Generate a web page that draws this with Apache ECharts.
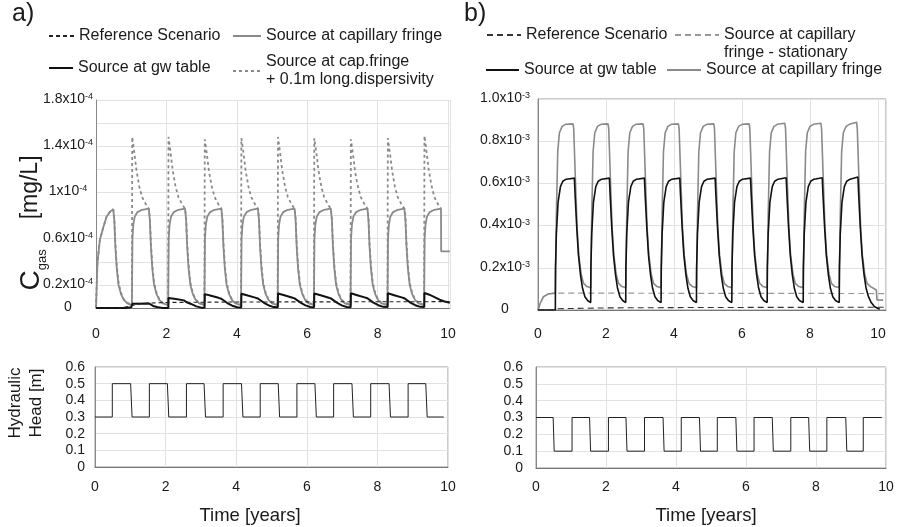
<!DOCTYPE html>
<html><head><meta charset="utf-8">
<script src="https://cdn.jsdelivr.net/npm/echarts@6/dist/echarts.min.js"></script>
<style>html,body{margin:0;padding:0;background:#fff}#c{width:897px;height:527px}</style>
</head><body><div id="c"></div>
<script>
// ---------- DATA (time in years; concentrations in 1e-4 mg/L for a, 1e-3 mg/L for b) ----------
const timeTickStep = 2;
const capATickLabels = {'0.0':'0','0.2':'0.2','0.6':'0.6','1.0':'1','1.4':'1.4','1.8':'1.8'};
const capBTickLabels = {'0.0':'0','0.2':'0.2','0.4':'0.4','0.6':'0.6','0.8':'0.8','1.0':'1.0'};

const refA = [[0,0],[0.7,0],[1.0,0.02],[1.3,0.04],[2.0,0.048],[4.0,0.052],[10.05,0.055]];

const capA = [[0,0],[0.04,0.39],[0.11,0.59],[0.21,0.70],[0.30,0.79],[0.40,0.834],[0.49,0.854],
[0.52,0.76],[0.55,0.53],[0.59,0.34],[0.64,0.20],[0.71,0.12],[0.79,0.07],[0.89,0.04],[1.02,0.025],
[1.035,0.60],[1.06,0.72],[1.10,0.79],[1.18,0.83],[1.31,0.85],[1.50,0.86],
[1.53,0.76],[1.56,0.53],[1.60,0.34],[1.65,0.20],[1.72,0.12],[1.80,0.07],[1.90,0.04],[2.05,0.025],
[2.065,0.60],[2.09,0.72],[2.13,0.79],[2.21,0.83],[2.34,0.85],[2.53,0.86],
[2.56,0.76],[2.59,0.53],[2.63,0.34],[2.68,0.20],[2.75,0.12],[2.83,0.07],[2.93,0.04],[3.08,0.025],
[3.095,0.60],[3.12,0.72],[3.16,0.79],[3.24,0.83],[3.37,0.85],[3.56,0.86],
[3.59,0.76],[3.62,0.53],[3.66,0.34],[3.71,0.20],[3.78,0.12],[3.86,0.07],[3.96,0.04],[4.12,0.025],
[4.135,0.60],[4.16,0.72],[4.20,0.79],[4.28,0.83],[4.41,0.85],[4.60,0.86],
[4.63,0.76],[4.66,0.53],[4.70,0.34],[4.75,0.20],[4.82,0.12],[4.90,0.07],[5.00,0.04],[5.16,0.025],
[5.175,0.60],[5.20,0.72],[5.24,0.79],[5.32,0.83],[5.45,0.85],[5.64,0.86],
[5.67,0.76],[5.70,0.53],[5.74,0.34],[5.79,0.20],[5.86,0.12],[5.94,0.07],[6.04,0.04],[6.19,0.025],
[6.205,0.60],[6.23,0.72],[6.27,0.79],[6.35,0.83],[6.48,0.85],[6.67,0.86],
[6.70,0.76],[6.73,0.53],[6.77,0.34],[6.82,0.20],[6.89,0.12],[6.97,0.07],[7.07,0.04],[7.23,0.025],
[7.245,0.60],[7.27,0.72],[7.31,0.79],[7.39,0.83],[7.52,0.85],[7.71,0.86],
[7.74,0.76],[7.77,0.53],[7.81,0.34],[7.86,0.20],[7.93,0.12],[8.01,0.07],[8.11,0.04],[8.28,0.025],
[8.295,0.60],[8.32,0.72],[8.36,0.79],[8.44,0.83],[8.57,0.85],[8.76,0.86],
[8.79,0.76],[8.82,0.53],[8.86,0.34],[8.91,0.20],[8.98,0.12],[9.06,0.07],[9.16,0.04],[9.32,0.025],
[9.335,0.60],[9.36,0.72],[9.40,0.79],[9.48,0.83],[9.61,0.85],[9.80,0.86],[9.805,0.49],[10.05,0.49]];

const dispA = [[0,0],[0.04,0.39],[0.11,0.59],[0.21,0.70],[0.30,0.79],[0.40,0.834],[0.49,0.854],
[0.52,0.78],[0.55,0.56],[0.59,0.37],[0.64,0.22],[0.71,0.13],[0.79,0.075],[0.89,0.045],[1.02,0.03],
[1.03,1.48],[1.09,1.34],[1.15,1.19],[1.23,1.05],[1.31,0.96],[1.43,0.89],[1.50,0.86],
[1.53,0.78],[1.56,0.56],[1.60,0.37],[1.65,0.22],[1.72,0.13],[1.80,0.075],[1.90,0.045],[2.05,0.03],
[2.06,1.48],[2.12,1.34],[2.18,1.19],[2.26,1.05],[2.34,0.96],[2.46,0.89],[2.53,0.86],
[2.56,0.78],[2.59,0.56],[2.63,0.37],[2.68,0.22],[2.75,0.13],[2.83,0.075],[2.93,0.045],[3.08,0.03],
[3.09,1.46],[3.15,1.33],[3.21,1.18],[3.29,1.05],[3.37,0.96],[3.49,0.89],[3.56,0.86],
[3.59,0.78],[3.62,0.56],[3.66,0.37],[3.71,0.22],[3.78,0.13],[3.86,0.075],[3.96,0.045],[4.12,0.03],
[4.13,1.47],[4.19,1.34],[4.25,1.19],[4.33,1.05],[4.41,0.96],[4.53,0.89],[4.60,0.86],
[4.63,0.78],[4.66,0.56],[4.70,0.37],[4.75,0.22],[4.82,0.13],[4.90,0.075],[5.00,0.045],[5.16,0.03],
[5.17,1.48],[5.23,1.34],[5.29,1.19],[5.37,1.05],[5.45,0.96],[5.57,0.89],[5.64,0.86],
[5.67,0.78],[5.70,0.56],[5.74,0.37],[5.79,0.22],[5.86,0.13],[5.94,0.075],[6.04,0.045],[6.19,0.03],
[6.20,1.47],[6.26,1.34],[6.32,1.19],[6.40,1.05],[6.48,0.96],[6.60,0.89],[6.67,0.86],
[6.70,0.78],[6.73,0.56],[6.77,0.37],[6.82,0.22],[6.89,0.13],[6.97,0.075],[7.07,0.045],[7.23,0.03],
[7.24,1.46],[7.30,1.33],[7.36,1.18],[7.44,1.05],[7.52,0.96],[7.64,0.89],[7.71,0.86],
[7.74,0.78],[7.77,0.56],[7.81,0.37],[7.86,0.22],[7.93,0.13],[8.01,0.075],[8.11,0.045],[8.28,0.03],
[8.29,1.47],[8.35,1.34],[8.41,1.19],[8.49,1.05],[8.57,0.96],[8.69,0.89],[8.76,0.86],
[8.79,0.78],[8.82,0.56],[8.86,0.37],[8.91,0.22],[8.98,0.13],[9.06,0.075],[9.16,0.045],[9.32,0.03],
[9.33,1.49],[9.39,1.35],[9.45,1.20],[9.53,1.06],[9.61,0.96],[9.73,0.89],[9.80,0.86]];

const gwA = [[0,0],[0.85,0],[1.0,0.006],[1.03,0.008],[1.035,0.037],[1.50,0.04],[1.56,0.03],[1.62,0.018],[1.73,0.008],[1.88,0.001],[2.055,0],
[2.06,0.087],[2.27,0.078],[2.50,0.066],[2.53,0.063],[2.56,0.052],[2.70,0.035],[2.85,0.014],[2.99,0.003],[3.085,0.002],
[3.09,0.12],[3.27,0.106],[3.48,0.088],[3.56,0.080],[3.59,0.064],[3.73,0.043],[3.87,0.020],[4.01,0.006],[4.125,0.004],
[4.13,0.124],[4.31,0.108],[4.52,0.090],[4.60,0.082],[4.63,0.066],[4.77,0.045],[4.91,0.022],[5.05,0.008],[5.165,0.006],
[5.17,0.126],[5.35,0.110],[5.56,0.091],[5.64,0.083],[5.67,0.067],[5.81,0.046],[5.95,0.023],[6.09,0.009],[6.195,0.007],
[6.20,0.126],[6.38,0.110],[6.59,0.091],[6.67,0.083],[6.70,0.067],[6.84,0.046],[6.98,0.023],[7.12,0.009],[7.235,0.007],
[7.24,0.127],[7.42,0.111],[7.63,0.092],[7.71,0.084],[7.74,0.068],[7.88,0.047],[8.02,0.024],[8.16,0.01],[8.285,0.008],
[8.29,0.127],[8.47,0.111],[8.68,0.092],[8.76,0.084],[8.79,0.068],[8.93,0.047],[9.07,0.024],[9.21,0.01],[9.325,0.008],
[9.33,0.13],[9.47,0.115],[9.66,0.088],[9.76,0.072],[9.88,0.058],[10.05,0.045]];

const headA = [[0,0.3],[0.49,0.3],[0.49,0.5],[1.01,0.5],[1.05,0.3],[1.54,0.3],[1.54,0.5],[2.05,0.5],[2.09,0.3],
[2.59,0.3],[2.59,0.5],[3.09,0.5],[3.13,0.3],[3.63,0.3],[3.63,0.5],[4.15,0.5],[4.19,0.3],[4.68,0.3],[4.68,0.5],
[5.19,0.5],[5.23,0.3],[5.72,0.3],[5.72,0.5],[6.23,0.5],[6.27,0.3],[6.76,0.3],[6.76,0.5],[7.28,0.5],[7.32,0.3],
[7.81,0.3],[7.81,0.5],[8.33,0.5],[8.37,0.3],[8.87,0.3],[8.87,0.5],[9.37,0.5],[9.41,0.3],[9.88,0.3]];

const refB = [[0,0],[0.52,0],[0.6,0.006],[2,0.01],[5,0.012],[10.2,0.013]];
const statB = [[0,0],[0.06,0.03],[0.16,0.063],[0.30,0.076],[0.45,0.079],[0.51,0.08],[10.2,0.078]];

const capB = [[0,0],[0.06,0.03],[0.16,0.063],[0.30,0.076],[0.45,0.079],[0.51,0.08],
[0.54,0.45],[0.58,0.75],[0.63,0.84],[0.71,0.87],[0.81,0.88],[1.03,0.882],
[1.05,0.86],[1.10,0.62],[1.15,0.39],[1.20,0.26],[1.27,0.17],[1.34,0.126],[1.44,0.111],[1.55,0.106],
[1.58,0.45],[1.62,0.75],[1.67,0.84],[1.75,0.87],[1.85,0.88],[2.06,0.882],
[2.08,0.86],[2.13,0.62],[2.18,0.39],[2.23,0.26],[2.30,0.17],[2.37,0.126],[2.47,0.111],[2.58,0.106],
[2.61,0.45],[2.65,0.75],[2.70,0.84],[2.78,0.87],[2.88,0.88],[3.09,0.882],
[3.11,0.86],[3.16,0.62],[3.21,0.39],[3.26,0.26],[3.33,0.17],[3.40,0.126],[3.50,0.111],[3.62,0.106],
[3.65,0.45],[3.69,0.75],[3.74,0.84],[3.82,0.87],[3.92,0.88],[4.13,0.882],
[4.15,0.86],[4.20,0.62],[4.25,0.39],[4.30,0.26],[4.37,0.17],[4.44,0.126],[4.54,0.111],[4.66,0.106],
[4.69,0.45],[4.73,0.75],[4.78,0.84],[4.86,0.87],[4.96,0.88],[5.17,0.882],
[5.19,0.86],[5.24,0.62],[5.29,0.39],[5.34,0.26],[5.41,0.17],[5.48,0.126],[5.58,0.111],[5.70,0.106],
[5.73,0.45],[5.77,0.75],[5.82,0.84],[5.90,0.87],[6.00,0.88],[6.21,0.882],
[6.23,0.86],[6.28,0.62],[6.33,0.39],[6.38,0.26],[6.45,0.17],[6.52,0.126],[6.62,0.111],[6.74,0.106],
[6.77,0.45],[6.81,0.75],[6.86,0.84],[6.94,0.87],[7.04,0.88],[7.26,0.885],
[7.28,0.86],[7.33,0.62],[7.38,0.39],[7.43,0.26],[7.50,0.17],[7.57,0.126],[7.67,0.111],[7.80,0.106],
[7.83,0.45],[7.87,0.75],[7.92,0.84],[8.00,0.87],[8.10,0.88],[8.32,0.885],
[8.34,0.86],[8.39,0.62],[8.44,0.39],[8.49,0.26],[8.56,0.17],[8.63,0.126],[8.73,0.111],[8.86,0.106],
[8.89,0.45],[8.93,0.75],[8.98,0.84],[9.06,0.87],[9.16,0.88],[9.37,0.89],
[9.39,0.86],[9.44,0.62],[9.49,0.39],[9.54,0.26],[9.61,0.17],[9.68,0.126],[9.78,0.111],[9.95,0.095],[9.97,0.048],[10.15,0.047]];

const gwB = [[0,0],[0.51,0],
[0.515,0.2],[0.54,0.36],[0.59,0.51],[0.66,0.585],[0.73,0.61],[0.83,0.62],[1.07,0.625],
[1.09,0.55],[1.14,0.39],[1.19,0.26],[1.25,0.166],[1.31,0.103],[1.38,0.063],[1.46,0.045],[1.55,0.035],
[1.555,0.2],[1.58,0.36],[1.63,0.51],[1.70,0.585],[1.77,0.61],[1.87,0.62],[2.10,0.625],
[2.12,0.55],[2.17,0.39],[2.22,0.26],[2.28,0.166],[2.34,0.103],[2.41,0.063],[2.49,0.045],[2.58,0.035],
[2.585,0.2],[2.61,0.36],[2.66,0.51],[2.73,0.585],[2.80,0.61],[2.90,0.62],[3.13,0.625],
[3.15,0.55],[3.20,0.39],[3.25,0.26],[3.31,0.166],[3.37,0.103],[3.44,0.063],[3.52,0.045],[3.62,0.035],
[3.625,0.2],[3.65,0.36],[3.70,0.51],[3.77,0.585],[3.84,0.61],[3.94,0.62],[4.17,0.625],
[4.19,0.55],[4.24,0.39],[4.29,0.26],[4.35,0.166],[4.41,0.103],[4.48,0.063],[4.56,0.045],[4.66,0.035],
[4.665,0.2],[4.69,0.36],[4.74,0.51],[4.81,0.585],[4.88,0.61],[4.98,0.62],[5.21,0.625],
[5.23,0.55],[5.28,0.39],[5.33,0.26],[5.39,0.166],[5.45,0.103],[5.52,0.063],[5.60,0.045],[5.70,0.035],
[5.705,0.2],[5.73,0.36],[5.78,0.51],[5.85,0.585],[5.92,0.61],[6.02,0.62],[6.25,0.625],
[6.27,0.55],[6.32,0.39],[6.37,0.26],[6.43,0.166],[6.49,0.103],[6.56,0.063],[6.64,0.045],[6.74,0.035],
[6.745,0.2],[6.77,0.36],[6.82,0.51],[6.89,0.585],[6.96,0.61],[7.06,0.62],[7.30,0.627],
[7.32,0.55],[7.37,0.39],[7.42,0.26],[7.48,0.166],[7.54,0.103],[7.61,0.063],[7.69,0.045],[7.80,0.035],
[7.805,0.2],[7.83,0.36],[7.88,0.51],[7.95,0.585],[8.02,0.61],[8.12,0.62],[8.36,0.627],
[8.38,0.55],[8.43,0.39],[8.48,0.26],[8.54,0.166],[8.60,0.103],[8.67,0.063],[8.75,0.045],[8.86,0.035],
[8.865,0.2],[8.89,0.36],[8.94,0.51],[9.01,0.585],[9.08,0.61],[9.18,0.62],[9.41,0.63],
[9.43,0.55],[9.48,0.39],[9.53,0.26],[9.59,0.166],[9.65,0.103],[9.72,0.063],[9.80,0.035],[9.90,0.015],[10.05,0.004]];

const headB = [[0,0.3],[0.49,0.3],[0.52,0.1],[1.03,0.1],[1.03,0.3],[1.53,0.3],[1.56,0.1],[2.07,0.1],[2.07,0.3],
[2.57,0.3],[2.60,0.1],[3.10,0.1],[3.10,0.3],[3.63,0.3],[3.66,0.1],[4.15,0.1],[4.15,0.3],[4.67,0.3],[4.70,0.1],
[5.18,0.1],[5.18,0.3],[5.71,0.3],[5.74,0.1],[6.23,0.1],[6.23,0.3],[6.75,0.3],[6.78,0.1],[7.28,0.1],[7.28,0.3],
[7.79,0.3],[7.82,0.1],[8.31,0.1],[8.31,0.3],[8.85,0.3],[8.88,0.1],[9.35,0.1],[9.35,0.3],[9.88,0.3]];

// ---------- CHART ----------
const FONT = "'Liberation Sans', Arial, Helvetica, sans-serif";
const TXT = '#1a1a1a';
const GRIDC = '#e2e2e2';

function supFormatter(labels, exp) {
  return function (v) {
    const t = labels[v.toFixed(1)];
    if (t === undefined) return '';
    if (t === '0') return '{m|0}';
    return '{m|' + t + 'x10}{s|' + exp + '}';
  };
}
const supRich = {
  m: {fontSize: 14, lineHeight: 16, fontFamily: FONT, color: TXT, verticalAlign: 'top'},
  s: {fontSize: 9, lineHeight: 9, fontFamily: FONT, color: TXT, verticalAlign: 'top'}
};

function xAx(grid, max, margin, showMax) {
  return {type: 'value', gridIndex: grid, min: 0, max: max, interval: timeTickStep,
    axisLine: {show: true, lineStyle: {color: '#777', width: 1}},
    axisTick: {show: false},
    splitLine: {show: true, lineStyle: {color: GRIDC}},
    axisLabel: {margin: margin, fontSize: 14, color: TXT, fontFamily: FONT, showMaxLabel: showMax, showMinLabel: true}};
}
function yHead(grid, margin) {
  return {type: 'value', gridIndex: grid, min: 0, max: 0.6, interval: 0.1,
    axisLine: {show: true, lineStyle: {color: '#888'}},
    axisTick: {show: false},
    splitLine: {show: true, lineStyle: {color: GRIDC}},
    axisLabel: {margin: margin, fontSize: 14, color: TXT, fontFamily: FONT,
      formatter: v => (v === 0 ? '0' : v.toFixed(1))}};
}

function line(name, data, xi, color, width, dash, z) {
  return {name: name, type: 'line', xAxisIndex: xi, yAxisIndex: xi, data: data,
    showSymbol: false, symbol: 'none', z: z || 2, silent: true,
    itemStyle: {color: color},
    lineStyle: {color: color, width: width, type: dash || 'solid'}};
}

function leg(name, left, top, w) {
  return {data: [name], left: left, top: top, orient: 'horizontal', padding: 0,
    itemWidth: w, itemHeight: 10, selectedMode: false,
    itemStyle: {opacity: 0},
    formatter: n => n.slice(2),
    textStyle: {fontFamily: FONT, fontSize: 16, color: TXT, lineHeight: 18}};
}

const chart = echarts.init(document.getElementById('c'), null, {renderer: 'canvas'});
chart.setOption({
  animation: false,
  backgroundColor: '#fff',
  textStyle: {fontFamily: FONT},
  grid: [
    {left: 96, top: 100, width: 353.8, height: 208, show: false},
    {left: 95, top: 367, width: 353, height: 100, show: true, borderColor: '#999', borderWidth: 1},
    {left: 538, top: 99, width: 348, height: 211, show: true, borderColor: '#999', borderWidth: 1},
    {left: 536, top: 367, width: 350, height: 101, show: true, borderColor: '#999', borderWidth: 1}
  ],
  xAxis: [xAx(0, 10.05, 19, false), xAx(1, 10, 13, true), xAx(2, 10.235, 17, false), xAx(3, 10, 12, true)],
  yAxis: [
    {type: 'value', gridIndex: 0, min: 0, max: 1.8, interval: 0.2,
      axisLine: {show: true, lineStyle: {color: '#888'}}, axisTick: {show: false},
      splitLine: {show: true, lineStyle: {color: GRIDC}},
      axisLabel: {margin: 28, align: 'center', formatter: supFormatter(capATickLabels, '-4'), rich: supRich}},
    yHead(1, 10),
    {type: 'value', gridIndex: 2, min: 0, max: 1.0, interval: 0.2,
      axisLine: {show: true, lineStyle: {color: '#888'}}, axisTick: {show: false},
      splitLine: {show: true, lineStyle: {color: GRIDC}},
      axisLabel: {margin: 33, align: 'center', formatter: supFormatter(capBTickLabels, '-3'), rich: supRich}},
    yHead(3, 13)
  ],
  legend: [
    leg('a:Reference Scenario', 48, 27, 25),
    leg('a:Source at capillary fringe', 232, 27, 28),
    leg('a:Source at gw table', 48, 59, 24),
    leg('a:Source at cap.fringe\n+ 0.1m long.dispersivity', 232, 53, 28),
    leg('b:Reference Scenario', 486, 26, 34),
    leg('b:\nSource at capillary\nfringe - stationary', 674, 8, 44),
    leg('b:Source at gw table', 485, 61, 33),
    leg('b:Source at capillary fringe', 666, 61, 34)
  ],
  series: [
    line('a:Source at capillary fringe', capA, 0, '#8a8a8a', 1.8, 'solid', 2),
    line('a:Source at cap.fringe\n+ 0.1m long.dispersivity', dispA, 0, '#8a8a8a', 1.8, [3, 3], 3),
    line('a:Source at gw table', gwA, 0, '#111', 2, 'solid', 4),
    line('a:Reference Scenario', refA, 0, '#222', 1.1, [4, 3], 5),
    line('a:head', headA, 1, '#222', 1, 'solid', 2),
    line('b:\nSource at capillary\nfringe - stationary', statB, 2, '#999', 1.2, [6, 4], 2),
    line('b:Source at capillary fringe', capB, 2, '#8a8a8a', 1.6, 'solid', 3),
    line('b:Source at gw table', gwB, 2, '#111', 1.6, 'solid', 4),
    line('b:Reference Scenario', refB, 2, '#333', 1.1, [6, 4], 5),
    line('b:head', headB, 3, '#222', 1, 'solid', 2)
  ],
  graphic: [
    {type: 'text', left: 12, top: 2, style: {text: 'a)', fontSize: 25, fontFamily: FONT, fill: TXT}},
    {type: 'text', left: 464, top: 2, style: {text: 'b)', fontSize: 25, fontFamily: FONT, fill: TXT}},
    {type: 'text', x: 31, y: 223, rotation: Math.PI / 2,
      style: {text: '{c|C}{g|gas}{u|[mg/L]}', align: 'center', verticalAlign: 'middle', fill: TXT,
        rich: {
          c: {fontSize: 28, lineHeight: 28, fontFamily: FONT, fill: TXT, verticalAlign: 'top'},
          g: {fontSize: 13, lineHeight: 13, fontFamily: FONT, fill: TXT, verticalAlign: 'top', padding: [19, 0, 0, 0]},
          u: {fontSize: 23, lineHeight: 23, fontFamily: FONT, fill: TXT, verticalAlign: 'top', padding: [2, 0, 0, 30]}
        }}},
    {type: 'text', x: 26, y: 403, rotation: Math.PI / 2,
      style: {text: 'Hydraulic\nHead [m]', align: 'center', verticalAlign: 'middle', fontSize: 17, lineHeight: 21, fontFamily: FONT, fill: TXT}},
    {type: 'text', x: 250, y: 516, style: {text: 'Time [years]', align: 'center', verticalAlign: 'middle', fontSize: 18.5, fontFamily: FONT, fill: TXT}},
    {type: 'text', x: 706, y: 516, style: {text: 'Time [years]', align: 'center', verticalAlign: 'middle', fontSize: 18.5, fontFamily: FONT, fill: TXT}}
  ]
});
</script></body></html>
